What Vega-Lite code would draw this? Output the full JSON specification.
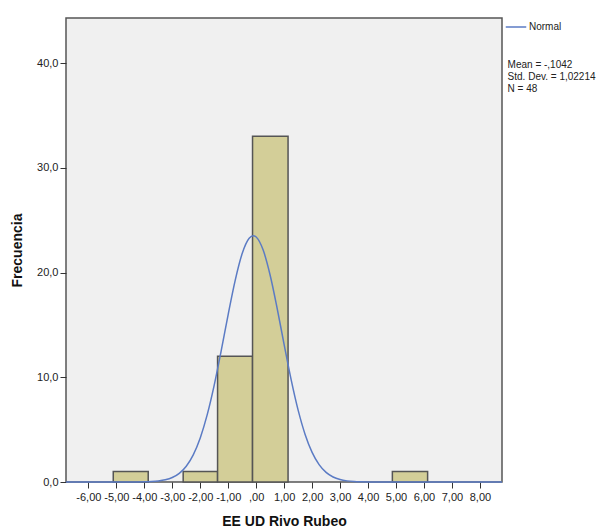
{
  "$schema": "https://vega.github.io/schema/vega-lite/v6.json",
  "autosize": "none",
  "width": 436,
  "height": 464,
  "padding": {"left": 66, "top": 18, "right": 113, "bottom": 45},
  "background": "#ffffff",
  "config": {
    "view": {"fill": "#f0f0f0", "stroke": "#555555", "strokeWidth": 1.5},
    "font": "Liberation Sans",
    "axis": {"grid": false, "domain": false, "tickColor": "#333333", "tickSize": 6, "labelColor": "#222222", "labelFontSize": 11, "labelFont": "Liberation Sans", "titleFont": "Liberation Sans", "titleFontSize": 14, "titleFontWeight": "bold", "titleColor": "#111111"},
    "axisX": {
      "values": [-6, -5, -4, -3, -2, -1, 0, 1, 2, 3, 4, 5, 6, 7, 8],
      "tickCount": 15,
      "labelExpr": "datum.value == 0 ? ',00' : (datum.value < 0 ? '-' : '') + abs(datum.value) + ',00'",
      "labelOverlap": false,
      "labelBound": false,
      "labelFlush": false,
      "labelPadding": 3,
      "titlePadding": 12
    }
  },
  "datasets": {
    "bars": [
      {"x": -5.11, "x_end": -3.86, "count": 1},
      {"x": -2.61, "x_end": -1.38, "count": 1},
      {"x": -1.38, "x_end": -0.13, "count": 12},
      {"x": -0.13, "x_end": 1.14, "count": 33},
      {"x": 4.87, "x_end": 6.13, "count": 1}
    ],
    "curve": [
      {"x": -6.8, "y": 0},
      {"x": -5.0, "y": 0.0002},
      {"x": -4.5, "y": 0.0023},
      {"x": -4.25, "y": 0.0063},
      {"x": -4.0, "y": 0.0165},
      {"x": -3.75, "y": 0.0406},
      {"x": -3.5, "y": 0.0943},
      {"x": -3.25, "y": 0.206},
      {"x": -3.0, "y": 0.425},
      {"x": -2.75, "y": 0.825},
      {"x": -2.5, "y": 1.508},
      {"x": -2.25, "y": 2.596},
      {"x": -2.0, "y": 4.211},
      {"x": -1.75, "y": 6.431},
      {"x": -1.5, "y": 9.254},
      {"x": -1.25, "y": 12.544},
      {"x": -1.0, "y": 16.014},
      {"x": -0.75, "y": 19.257},
      {"x": -0.5, "y": 21.815},
      {"x": -0.25, "y": 23.274},
      {"x": -0.1042, "y": 23.512},
      {"x": 0.0, "y": 23.39},
      {"x": 0.25, "y": 22.142},
      {"x": 0.5, "y": 19.743},
      {"x": 0.75, "y": 16.582},
      {"x": 1.0, "y": 13.119},
      {"x": 1.25, "y": 9.775},
      {"x": 1.5, "y": 6.862},
      {"x": 1.75, "y": 4.537},
      {"x": 2.0, "y": 2.825},
      {"x": 2.25, "y": 1.657},
      {"x": 2.5, "y": 0.9155},
      {"x": 2.75, "y": 0.4765},
      {"x": 3.0, "y": 0.2336},
      {"x": 3.25, "y": 0.1079},
      {"x": 3.5, "y": 0.0469},
      {"x": 3.75, "y": 0.0192},
      {"x": 4.0, "y": 0.0074},
      {"x": 4.25, "y": 0.0027},
      {"x": 4.5, "y": 0.0009},
      {"x": 5.0, "y": 0.0001},
      {"x": 8.79, "y": 0}
    ],
    "stats": [{"label": "stats"}]
  },
  "layer": [
    {
      "data": {"name": "bars"},
      "mark": {"type": "bar", "fill": "#d3ce98", "stroke": "#555555", "strokeWidth": 1.5},
      "encoding": {
        "x": {
          "field": "x", "type": "quantitative", "title": "EE UD Rivo Rubeo",
          "scale": {"domain": [-6.8, 8.79], "nice": false, "zero": false}
        },
        "x2": {"field": "x_end"},
        "y": {
          "field": "count", "type": "quantitative",
          "scale": {"domain": [0, 44.3], "nice": false},
          "axis": {
            "title": "Frecuencia",
            "values": [0, 10, 20, 30, 40],
            "labelExpr": "datum.value + ',0'",
            "labelPadding": 2,
            "titlePadding": 12
          }
        },
        "y2": {"datum": 0}
      }
    },
    {
      "data": {"name": "curve"},
      "mark": {"type": "line", "interpolate": "monotone", "strokeWidth": 1.5},
      "encoding": {
        "x": {"field": "x", "type": "quantitative", "title": "EE UD Rivo Rubeo"},
        "y": {"field": "y", "type": "quantitative", "title": "Frecuencia"},
        "color": {
          "datum": "Normal",
          "scale": {"domain": ["Normal"], "range": ["#5b7bc4"]},
          "legend": {
            "title": null,
            "orient": "none",
            "legendX": 439,
            "legendY": -2,
            "padding": 0,
            "symbolType": "stroke",
            "symbolSize": 420,
            "symbolStrokeWidth": 1.5,
            "labelFontSize": 10,
            "labelColor": "#222222",
            "labelOffset": 2
          }
        }
      }
    },
    {
      "data": {"name": "stats"},
      "mark": {"type": "text", "text": ["Mean = -,1042", "Std. Dev. = 1,02214", "N = 48"], "align": "left", "baseline": "alphabetic", "fontSize": 10, "lineHeight": 12, "color": "#222222", "font": "Liberation Sans"},
      "encoding": {
        "x": {"datum": 8.99, "type": "quantitative", "title": "EE UD Rivo Rubeo"},
        "y": {"datum": 39.5, "type": "quantitative", "title": "Frecuencia"}
      }
    }
  ]
}
